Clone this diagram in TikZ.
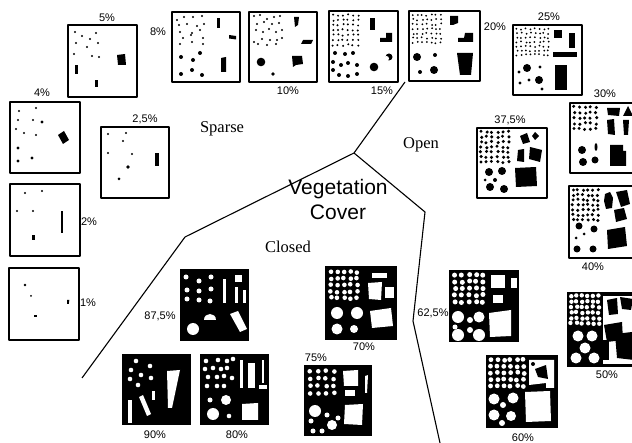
\documentclass[tikz,border=0pt]{standalone}
\usepackage{fontspec}
\setmainfont{Liberation Serif}
\setsansfont{Liberation Sans}
\usepackage{tikz}
\usetikzlibrary{calc}

% grid of small dots: x0, y0, dx, dy, nx, ny, radius
\newcommand{\dotfield}[7]{%
  \foreach \i in {1,...,#5}{%
    \foreach \j in {1,...,#6}{%
      \fill ({#1+(\i-1)*#3+0.8*rand},{#2+(\j-1)*#4+0.8*rand}) circle (#7);}}}

\begin{document}
\begin{tikzpicture}[x=1pt, y=-1pt, line join=round,
    sheet/.style={draw=black, line width=1.6pt, fill=white},
    darksheet/.style={fill=black},
    pct/.style={font=\sffamily\fontsize{11}{13}\selectfont, inner sep=0pt},
    zone/.style={font=\rmfamily\fontsize{16.5}{18}\selectfont, inner sep=0pt},
    title/.style={font=\sffamily\fontsize{21}{25}\selectfont, align=center, inner sep=0pt},
    boundary/.style={line width=1.1pt}]
    \pgfmathsetseed{7}
    \useasboundingbox (0,0) rectangle (632,443);

    % Boundaries between the three classes
    \coordinate (top) at (405,82);
    \coordinate (fork) at (354,153);
    \coordinate (closedbend) at (185,237);
    \coordinate (closedend) at (82,378);
    \coordinate (openbend) at (425,212);
    \coordinate (openknee) at (413,321);
    \coordinate (openend) at (440,443);
    \draw[boundary] (top) -- (fork) -- (closedbend) -- (closedend);
    \draw[boundary] (fork) -- (openbend) -- (openknee) -- (openend);

    % Class names
    \node[title] (cover) at (338,199) {Vegetation\\Cover};
    \node[zone] (sparse) at (222,129) {Sparse};
    \node[zone] (open) at (421,145) {Open};
    \node[zone] (closed) at (288,247) {Closed};

    % ---------- Sparse ----------
    % 1%
    \begin{scope}[shift={(9,268)}]
        \draw[sheet] (0,0) rectangle (70,72);
        \fill (16,17) circle (1.3pt);
        \fill (22,28) circle (1pt);
        \fill (24.5,47.3) rectangle (28,49.4);
        \fill (58,32) -- (60.3,32) -- (59.8,36) -- (58,36) -- cycle;
    \end{scope}
    \node[pct] (p1) at (88,303) {1\%};

    % 2%
    \begin{scope}[shift={(10,184)}]
        \draw[sheet] (0,0) rectangle (70,72);
        \foreach \x/\y in {15/9,32/7,7/27,23/27}
            \fill (\x,\y) circle (1.1pt);
        \fill (21.5,51.5) rectangle (25,56);
        \fill (51.3,27) rectangle (53.2,49);
    \end{scope}
    \node[pct] (p2) at (89,222) {2\%};

    % 2,5%
    \begin{scope}[shift={(101,127)}]
        \draw[sheet] (0,0) rectangle (68,71);
        \foreach \x/\y in {7/7,25/6,22/14,7/26,31/27}
            \fill (\x,\y) circle (1.1pt);
        \fill (27,40) circle (1.9pt);
        \fill (18,52) circle (1.5pt);
        \fill (54,26) rectangle (58,39);
    \end{scope}
    \node[pct] (p25) at (145,119) {2,5\%};

    % 4%
    \begin{scope}[shift={(10,102)}]
        \draw[sheet] (0,0) rectangle (70,71);
        \foreach \x/\y in {9/9,26/6,8/18,23/18,6/27,14/31,26/33}
            \fill (\x,\y) circle (1.1pt);
        \foreach \x/\y in {32/20,8/46,8/59,22/56}
            \fill (\x,\y) circle (1.7pt);
        \fill (48,33) -- (54,29) -- (59,38) -- (53,42) -- cycle;
    \end{scope}
    \node[pct] (p4) at (42,93) {4\%};

    % 5%
    \begin{scope}[shift={(68,25)}]
        \draw[sheet] (0,0) rectangle (69,72);
        \foreach \x/\y in {7/7,14/11,28/8,8/18,22/14,30/18,19/22,6/29,24/31,31/32}
            \fill (\x,\y) circle (1.1pt);
        \fill (49,30) -- (57,29) -- (58,40) -- (50,40) -- cycle;
        \fill (7,40) rectangle (9.8,49);
        \fill (27,55) rectangle (29.8,62);
    \end{scope}
    \node[pct] (p5) at (107,18) {5\%};

    % 8%
    \begin{scope}[shift={(172,12)}]
        \draw[sheet] (0,0) rectangle (68,70);
        \foreach \x/\y in {5/8,12/5,21/5,30/4,7/13,15/12,25/14,32/12,8/20,20/21,28/18,11/26,19/23,31/26,8/32,20/30,31/32}
            \fill (\x,\y) circle (1.1pt);
        \foreach \x/\y in {9/45,21/48,28/41,9/62,20/58,30/63}
            \fill (\x,\y) circle (2pt);
        \fill (45,6) rectangle (47.8,16);
        \fill (57,23) -- (64,24) -- (64,27.5) -- (57,26.5) -- cycle;
        \fill (49,46) -- (54,45) -- (54,60) -- (49,60) -- cycle;
    \end{scope}
    \node[pct] (p8) at (158,32) {8\%};

    % 10%
    \begin{scope}[shift={(249,12)}]
        \draw[sheet] (0,0) rectangle (68,70);
        \foreach \x/\y in {5/4,11/3,18/7,25/5,31/4,8/12,15/10,23/12,30/11,7/18,14/20,20/17,27/20,33/18,5/30,13/27,21/28,28/28,33/26,9/32,18/33,27/32}
            \fill (\x,\y) circle (1.1pt);
        \fill (12,50) circle (4.3pt);
        \fill (24,62) circle (1.9pt);
        \fill (45,5) -- (50,5) -- (49,13) -- (46,15) -- cycle;
        \fill (54,28) -- (64,28) -- (62,32) -- (52,32) -- cycle;
        \fill (43,44) -- (53,44) -- (54,52) -- (47,53) -- (44,55) -- cycle;
    \end{scope}
    \node[pct] (p10) at (288,91) {10\%};

    % 15%
    \begin{scope}[shift={(329,11)}]
        \draw[sheet] (0,0) rectangle (69,71);
        \dotfield{4}{4}{5}{5}{6}{7}{1.1pt}
        \foreach \x/\y in {6/42,16/43,24/42,4/51,12/54,19/52,28/54,4/59,10/64,19/65,28/63}
            \fill (\x,\y) circle (2pt);
        \fill (45,56) circle (4.3pt);
        \fill (41,7) rectangle (46,19);
        \fill (51,27) -- (57,27) -- (57,22) -- (63,22) -- (63,31) -- (51,31) -- cycle;
        \fill (60,46) circle (3.5pt);
        \fill[white] (57.5,47.5) circle (2.5pt);
    \end{scope}
    \node[pct] (p15) at (382,91) {15\%};

    % ---------- Open ----------
    % 20%
    \begin{scope}[shift={(409,11)}]
        \draw[sheet] (0,0) rectangle (71,70);
        \dotfield{4}{4}{4.6}{4.6}{7}{7}{1pt}
        \fill (8,46) circle (4pt);
        \fill (26,44) circle (2pt);
        \fill (11,61) circle (2pt);
        \fill (25,59) circle (4pt);
        \fill (41,5) -- (49,5) -- (49,12) -- (44,14) -- (41,14) -- cycle;
        \fill (49,27) -- (55,27) -- (56,22) -- (64,22) -- (64,31) -- (49,31) -- cycle;
        \fill (48,42) -- (64,42) -- (62,64) -- (51,64) -- cycle;
    \end{scope}
    \node[pct] (p20) at (495,27) {20\%};

    % 25%
    \begin{scope}[shift={(513,25)}]
        \draw[sheet] (0,0) rectangle (69,70);
        \dotfield{4}{4}{4.5}{4.3}{8}{7}{1pt}
        \foreach \x/\y/\r in {14/43/4,6/47/1.7,27/42/1.7,16/55/1.7,26/55/4,7/58/1.7,29/64/1.7}
            \fill (\x,\y) circle (\r pt);
        \fill (41,5) rectangle (49,13);
        \fill (56,8) rectangle (62,23);
        \fill (40,27) rectangle (64,32);
        \fill (42,40) rectangle (54,65);
    \end{scope}
    \node[pct] (p25b) at (549,17) {25\%};

    % 30%
    \begin{scope}[shift={(570,103)}]
        \draw[sheet] (0,0) rectangle (70,70);
        \dotfield{4}{4}{5.5}{5.5}{5}{5}{1.7pt}
        \foreach \x/\y/\r in {12/47/4,13/59/4,25/57/3.5}
            \fill (\x,\y) circle (\r pt);
        \fill (26,44) ellipse (1.5pt and 4pt);
        \fill (37,5) -- (50,5) -- (49,13) -- (38,12) -- cycle;
        \fill (53,13) -- (58,3) -- (63,13) -- cycle;
        \fill (37,17) -- (44,16) -- (45,32) -- (38,31) -- cycle;
        \fill (53,17) -- (59,17) -- (58,32) -- (54,32) -- cycle;
        \fill (40,42) -- (53,42) -- (53,48) -- (56,48) -- (56,63) -- (40,63) -- cycle;
    \end{scope}
    \node[pct] (p30) at (605,94) {30\%};

    % 37,5%
    \begin{scope}[shift={(477,128)}]
        \draw[sheet] (0,0) rectangle (70,70);
        \dotfield{4}{4}{5.5}{5}{6}{7}{1.7pt}
        \foreach \x/\y/\r in {12/44/4,25/43/4,8/52/1.5,18/52/2,13/59/4,27/61/4}
            \fill (\x,\y) circle (\r pt);
        \fill (43,8) -- (50,5) -- (53,14) -- (46,16) -- cycle;
        \fill (58,4) -- (62,8) -- (58,12) -- (55,8) -- cycle;
        \fill (41,22) -- (47,21) -- (47,34) -- (40,33) -- cycle;
        \fill (53,19) -- (65,22) -- (63,34) -- (52,31) -- cycle;
        \fill (38,40) -- (59,39) -- (60,58) -- (39,59) -- cycle;
    \end{scope}
    \node[pct] (p37) at (510,120) {37,5\%};

    % 40%
    \begin{scope}[shift={(569,186)}]
        \draw[sheet] (0,0) rectangle (70,72);
        \dotfield{4}{4}{5}{5}{6}{7}{1.7pt}
        \foreach \x/\y/\r in {10/40/3.5,25/43/3.5,7/52/1.5,15/48/1.5,8/63/3.5,24/63/3.5}
            \fill (\x,\y) circle (\r pt);
        \fill (36,8) -- (41,6) -- (44,12) -- (43,22) -- (37,23) -- (35,15) -- cycle;
        \fill (47,6) -- (58,4) -- (61,18) -- (52,21) -- cycle;
        \fill (45,24) -- (55,22) -- (58,33) -- (47,36) -- cycle;
        \fill (38,44) -- (56,41) -- (58,60) -- (39,63) -- cycle;
    \end{scope}
    \node[pct] (p40) at (593,267) {40\%};

    % 50%
    \begin{scope}[shift={(567,292)}]
        \fill[darksheet] (0,0) rectangle (70,75);
        \begin{scope}[white]
            \dotfield{4}{4}{5.5}{5.5}{6}{6}{2.2pt}
            \foreach \x/\y in {11/44,25/44,18/56,9/66,27/66}
                \fill (\x,\y) circle (5.5pt);
            \fill (36,4) rectangle (70,72);
        \end{scope}
        \fill (40,8) -- (50,6) -- (51,22) -- (42,23) -- cycle;
        \fill (53,5) -- (66,7) -- (64,18) -- (55,17) -- cycle;
        \fill (37,33) -- (55,30) -- (56,48) -- (40,50) -- cycle;
        \fill (48,42) -- (65,40) -- (67,68) -- (50,66) -- cycle;
        \fill (36,48) rectangle (42,68);
    \end{scope}
    \node[pct] (p50) at (607,375) {50\%};

    % 60%
    \begin{scope}[shift={(486,355)}]
        \fill[darksheet] (0,0) rectangle (72,73);
        \begin{scope}[white]
            \dotfield{5}{5}{6.5}{6.5}{6}{5}{2.4pt}
            \foreach \x/\y/\r in {8/44/5.5,27/43/5.5,17/50/3,8/60/5.5,25/61/5,16/68/3}
                \fill (\x,\y) circle (\r pt);
            \fill (43,5) -- (68,5) -- (68,33) -- (60,33) -- (60,28) -- (43,30) -- cycle;
            \fill (39,37) -- (64,36) -- (65,66) -- (40,67) -- cycle;
        \end{scope}
        \fill (49,14) -- (60,10) -- (62,24) -- (52,22) -- cycle;
        \fill (47,9) circle (2pt);
    \end{scope}
    \node[pct] (p60) at (523,438) {60\%};

    % 62,5%
    \begin{scope}[shift={(449,270)}]
        \fill[darksheet] (0,0) rectangle (70,72);
        \begin{scope}[white]
            \dotfield{6}{5}{7}{6.7}{5}{5}{2.5pt}
            \foreach \x/\y/\r in {9/47/6,21/50/3,30/47/5.5,6/57/2.5,9/65/6,21/60/3,30/65/6}
                \fill (\x,\y) circle (\r pt);
            \fill (42,5) rectangle (56,18);
            \fill (62,8) rectangle (68,18);
            \fill (44,25) rectangle (54,33);
            \fill (40,43) -- (62,40) -- (62,66) -- (41,67) -- cycle;
        \end{scope}
    \end{scope}
    \node[pct] (p62) at (433,313) {62,5\%};

    % ---------- Closed ----------
    % 70%
    \begin{scope}[shift={(325,266)}]
        \fill[darksheet] (0,0) rectangle (72,74);
        \begin{scope}[white]
            \dotfield{6}{6}{6.5}{6.5}{5}{5}{2.3pt}
            \foreach \x/\y/\r in {12/47/6,32/47/6,12/63/5.5,29/63/4}
                \fill (\x,\y) circle (\r pt);
            \fill (47,7) rectangle (62,12);
            \fill (43,17) -- (57,16) -- (56,34) -- (44,33) -- cycle;
            \fill (60,21) rectangle (69,32);
            \fill (45,45) -- (66,42) -- (68,60) -- (47,62) -- cycle;
        \end{scope}
    \end{scope}
    \node[pct] (p70) at (364,347) {70\%};

    % 75%
    \begin{scope}[shift={(304,365)}]
        \fill[darksheet] (0,0) rectangle (68,71);
        \begin{scope}[white]
            \dotfield{6}{6}{8}{7.5}{4}{4}{2.3pt}
            \foreach \x/\y/\r in {11/46/6,23/50/2.5,7/56/2.5,28/60/5,9/66/2.5,18/66/2.5,34/53/2.5}
                \fill (\x,\y) circle (\r pt);
            \fill (39,6) -- (54,5) -- (54,21) -- (40,21) -- cycle;
            \fill (41,25) rectangle (51,31);
            \fill (61,11) -- (64,10) -- (63,28) -- (61,28) -- cycle;
            \fill (41,40) -- (59,39) -- (58,60) -- (40,59) -- cycle;
        \end{scope}
    \end{scope}
    \node[pct] (p75) at (316,358) {75\%};

    % 80%
    \begin{scope}[shift={(200,354)}]
        \fill[darksheet] (0,0) rectangle (69,71);
        \begin{scope}[white]
            \foreach \x/\y in {6/7,18/6,27/7,33/5,5/15,13/14,21/15,27/14,8/23,17/23,24/22,32/24,7/32,17/32,24/32}
                \fill (\x,\y) circle (2.3pt);
            \fill (40,6) rectangle (43,34);
            \fill (48,9) rectangle (55,34);
            \fill (62,6) rectangle (64,29);
            \fill (59,31) rectangle (67,35);
            \foreach \x/\y/\r in {10/46/2.5,26/46/5,13/60/6,29/62/2.3}
                \fill (\x,\y) circle (\r pt);
            \fill (42,50) -- (58,49) -- (58,66) -- (42,66) -- cycle;
        \end{scope}
    \end{scope}
    \node[pct] (p80) at (237,435) {80\%};

    % 87,5%
    \begin{scope}[shift={(180,269)}]
        \fill[darksheet] (0,0) rectangle (69,72);
        \begin{scope}[white]
            \foreach \x/\y in {6/8,19/12,31/8,7/21,19/22,31/20,7/30,19/31,30/32}
                \fill (\x,\y) circle (2.5pt);
            \fill (43,10) rectangle (46,34);
            \fill (55,6) rectangle (62,13);
            \fill (55,18) rectangle (58,34);
            \fill (63,21) rectangle (66,34);
            \fill (24,51) .. controls (24,43) and (36,43) .. (36,51) -- cycle;
            \fill (50,45) -- (58,42) -- (67,60) -- (60,63) -- cycle;
            \fill (13,60) circle (6pt);
        \end{scope}
    \end{scope}
    \node[pct] (p87) at (160,316) {87,5\%};

    % 90%
    \begin{scope}[shift={(122,354)}]
        \fill[darksheet] (0,0) rectangle (69,71);
        \begin{scope}[white]
            \foreach \x/\y in {14/7,28/12,9/16,19/21,29/24,8/25,16/31}
                \fill (\x,\y) circle (2.3pt);
            \fill (45,17) -- (58,16) -- (50,54) -- (46,54) -- cycle;
            \fill (6,46) rectangle (10,69);
            \fill (17,43) -- (21,41) -- (29,60) -- (25,62) -- cycle;
            \fill (30,37) rectangle (33,46);
        \end{scope}
    \end{scope}
    \node[pct] (p90) at (155,435) {90\%};
\end{tikzpicture}
\end{document}
